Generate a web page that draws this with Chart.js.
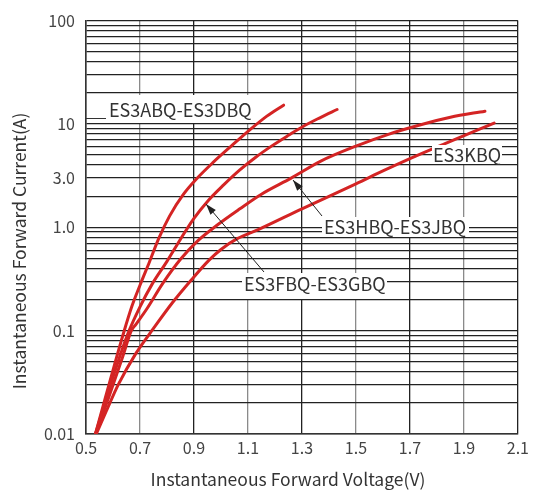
<!DOCTYPE html>
<html>
<head>
<meta charset="utf-8">
<script src="https://cdn.jsdelivr.net/npm/chart.js@4.4.0/dist/chart.umd.min.js"></script>
<style>
  html, body { margin: 0; padding: 0; background: #fff; }
  #wrap { width: 533px; height: 496px; }
</style>
</head>
<body>
<div id="wrap"><canvas id="chart" width="533" height="496"></canvas></div>
<script>
// ---- Data ----
const FONT = "'Noto Sans CJK SC', 'Noto Sans', sans-serif";
const RED = "#d42424";

// ES3ABQ-ES3DBQ
const abqV = [0.535, 0.570, 0.605, 0.640, 0.670, 0.700, 0.735, 0.770, 0.810, 0.860, 0.910, 0.970, 1.040, 1.110, 1.170, 1.232];
const abqI = [0.01, 0.0216, 0.0462, 0.0966, 0.172, 0.275, 0.462, 0.785, 1.29, 2.07, 2.95, 4.22, 6.17, 8.91, 11.9, 15.2];
// ES3FBQ-ES3GBQ
const fbqV = [0.535, 0.575, 0.615, 0.655, 0.700, 0.745, 0.800, 0.850, 0.900, 0.950, 1.010, 1.070, 1.130, 1.190, 1.250, 1.310, 1.370, 1.430];
const fbqI = [0.01, 0.0219, 0.0468, 0.0933, 0.170, 0.282, 0.468, 0.767, 1.22, 1.78, 2.57, 3.59, 4.79, 6.17, 7.76, 9.66, 11.6, 13.8];
// ES3HBQ-ES3JBQ
const hbqV = [0.535, 0.585, 0.635, 0.668, 0.685, 0.725, 0.785, 0.850, 0.910, 0.990, 1.070, 1.150, 1.260, 1.370, 1.500, 1.620, 1.730, 1.850, 1.978];
const hbqI = [0.01, 0.0229, 0.055, 0.100, 0.115, 0.162, 0.288, 0.490, 0.724, 1.07, 1.51, 2.09, 2.99, 4.37, 6.10, 7.94, 9.66, 11.6, 13.3];
// ES3KBQ
const kbqV = [0.538, 0.575, 0.620, 0.685, 0.750, 0.820, 0.890, 0.955, 1.000, 1.060, 1.140, 1.300, 1.500, 1.600, 1.700, 1.830, 2.012];
const kbqI = [0.01, 0.0166, 0.0302, 0.0603, 0.105, 0.186, 0.309, 0.479, 0.610, 0.776, 0.955, 1.51, 2.63, 3.51, 4.62, 6.46, 10.2];

// axis ticks
const xTicks = [0.5, 0.7, 0.9, 1.1, 1.3, 1.5, 1.7, 1.9, 2.1];
const yDecades = [0.01, 0.1, 1, 10];
const yMinorSteps = [1, 2, 3, 4, 5, 6, 7, 8, 9];
const yLabelValues = [0.01, 0.1, 1, 3, 10, 100];
const yLabelTexts = ["0.01", "0.1", "1.0", "3.0", "10", "100"];

const yTickValues = [];
yDecades.forEach(d => yMinorSteps.forEach(m => yTickValues.push(+(d * m).toPrecision(3))));
yTickValues.push(100);

function pts(vs, is) {
	return vs.map((v, i) => ({ x: v, y: is[i] }));
}
function series(label, vs, is) {
	return {
		label,
		data: pts(vs, is),
		borderColor: RED,
		borderWidth: 3,
		pointRadius: 0,
		fill: false,
		cubicInterpolationMode: "monotone",
		borderCapStyle: "round",
	};
}

// ---- Annotations / axis titles ----
function arrow(ctx, x1, y1, x2, y2) {
	// line from (x1,y1) to tip (x2,y2)
	ctx.beginPath();
	ctx.moveTo(x1, y1);
	ctx.lineTo(x2, y2);
	ctx.stroke();
	const a = Math.atan2(y2 - y1, x2 - x1);
	const L = 11, W = 3.5;
	ctx.beginPath();
	ctx.moveTo(x2, y2);
	ctx.lineTo(x2 - L * Math.cos(a) + W * Math.sin(a), y2 - L * Math.sin(a) - W * Math.cos(a));
	ctx.lineTo(x2 - L * Math.cos(a) - W * Math.sin(a), y2 - L * Math.sin(a) + W * Math.cos(a));
	ctx.closePath();
	ctx.fill();
}

const notes = {
	id: "notes",
	afterDatasetsDraw(chart) {
		const ctx = chart.ctx;
		const labels = [
			{ t: "ES3ABQ-ES3DBQ", box: [106, 95, 144, 28], tx: 109, ty: 110 },
			{ t: "ES3KBQ", box: [432, 145, 70, 19], tx: 433, ty: 155 },
			{ t: "ES3HBQ-ES3JBQ", box: [322, 217, 147, 20], tx: 324, ty: 227 },
			{ t: "ES3FBQ-ES3GBQ", box: [242, 273, 145, 26], tx: 244, ty: 284 },
		];
		ctx.save();
		for (const l of labels) {
			ctx.fillStyle = "#fff";
			ctx.fillRect(...l.box);
		}
		ctx.fillStyle = "#333";
		ctx.font = `18px ${FONT}`;
		ctx.textBaseline = "middle";
		ctx.textAlign = "left";
		for (const l of labels) ctx.fillText(l.t, l.tx, l.ty);

		// leader under ABQ label
		ctx.strokeStyle = "#333";
		ctx.lineWidth = 1;
		ctx.beginPath();
		ctx.moveTo(86, 118.5);
		ctx.lineTo(106, 118.5);
		ctx.stroke();

		ctx.fillStyle = "#222";
		ctx.strokeStyle = "#222";
		arrow(ctx, 322, 216, 293, 180);
		arrow(ctx, 264, 272, 206, 204);
		ctx.restore();
	},
	afterDraw(chart) {
		const ctx = chart.ctx;
		ctx.save();
		ctx.fillStyle = "#333";
		ctx.font = `17.5px ${FONT}`;
		ctx.textAlign = "center";
		ctx.textBaseline = "middle";
		ctx.fillText("Instantaneous Forward Voltage(V)", 288, 479);
		ctx.translate(19, 251);
		ctx.rotate(-Math.PI / 2);
		ctx.fillText("Instantaneous Forward Current(A)", 0, 0);
		ctx.restore();
	},
};

const xGridColors = xTicks.map((v, i) => (i % 2 === 1 ? "#8a8a8a" : "#222"));

new Chart(document.getElementById("chart"), {
	type: "line",
	data: {
		datasets: [
			series("ES3ABQ-ES3DBQ", abqV, abqI),
			series("ES3FBQ-ES3GBQ", fbqV, fbqI),
			series("ES3HBQ-ES3JBQ", hbqV, hbqI),
			series("ES3KBQ", kbqV, kbqI),
		],
	},
	options: {
		responsive: false,
		animation: false,
		devicePixelRatio: 1,
		layout: { padding: { top: 14, right: 12, left: 0, bottom: 0 } },
		plugins: { legend: { display: false }, tooltip: { enabled: false } },
		scales: {
			x: {
				type: "linear",
				min: 0.5,
				max: 2.1,
				afterBuildTicks: (s) => { s.ticks = xTicks.map(v => ({ value: v })); },
				afterFit: (s) => { s.height = 62; },
				ticks: {
					autoSkip: false,
					maxRotation: 0,
					padding: 4,
					color: "#444",
					font: { family: FONT, size: 16 },
					callback: (v) => Number(v).toFixed(1),
				},
				grid: {
					drawTicks: false,
					color: (c) => xGridColors[c.index] ?? "#222",
					lineWidth: 1.3,
				},
				border: { color: "#333", width: 1.5 },
			},
			y: {
				type: "logarithmic",
				min: 0.01,
				max: 100,
				afterBuildTicks: (s) => { s.ticks = yTickValues.map(v => ({ value: v })); },
				afterFit: (s) => { s.width = 86; },
				ticks: {
					autoSkip: false,
					padding: 11,
					color: "#444",
					font: { family: FONT, size: 16 },
					callback: (v) => {
						const i = yLabelValues.findIndex(x => Math.abs(x - v) / x < 1e-6);
						return i >= 0 ? yLabelTexts[i] : "";
					},
				},
				grid: { drawTicks: false, color: "#222", lineWidth: 1.2 },
				border: { color: "#333", width: 1.5 },
			},
		},
	},
	plugins: [notes],
});
</script>
</body>
</html>
